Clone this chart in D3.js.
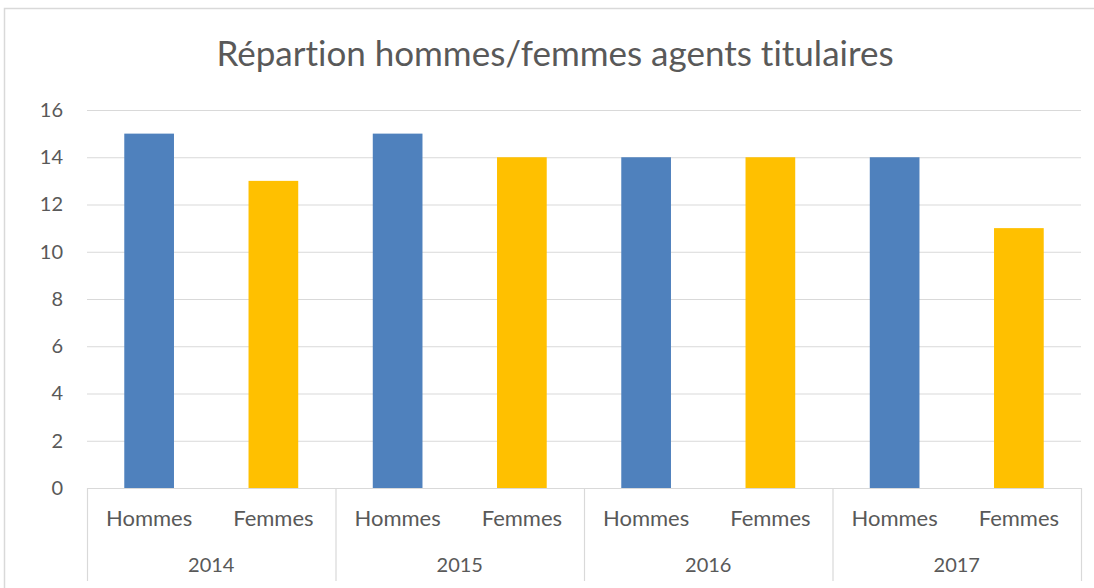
<!DOCTYPE html>
<html>
<head>
<meta charset="utf-8">
<script src="https://cdn.jsdelivr.net/npm/d3@7"></script>
<style>
  body { margin: 0; background: #fff; }
  text { font-family: Lato, "Open Sans", sans-serif; fill: #595959; font-variant-ligatures: none; }
</style>
</head>
<body>
<div id="chart"></div>
<script>
var years = ["2014", "2015", "2016", "2017"];
var sexes = ["Hommes", "Femmes"];
var hommes = [15, 15, 14, 14];
var femmes = [13, 14, 14, 11];
var yTicks = [0, 2, 4, 6, 8, 10, 12, 14, 16];
var colors = {Hommes: "#4f81bd", Femmes: "#ffc000"};

function plotChart() {
  var W = 1094, H = 588;
  var margin = {top: 110, right: 13, bottom: 100, left: 87};
  var width = W - margin.left - margin.right;
  var height = H - margin.top - margin.bottom;

  var svg = d3.select("#chart").append("svg")
      .attr("width", W)
      .attr("height", H);

  // chart border
  svg.append("rect")
      .attr("x", 4.5).attr("y", 8.5)
      .attr("width", W + 10).attr("height", H + 10)
      .attr("fill", "none")
      .attr("stroke", "#d9d9d9")
      .attr("stroke-width", 1.5);

  svg.append("text")
      .attr("x", 555).attr("y", 66)
      .attr("text-anchor", "middle")
      .style("font-size", "35px")
      .text("Répartion hommes/femmes agents titulaires");

  var g = svg.append("g")
      .attr("transform", "translate(" + margin.left + "," + margin.top + ")");

  var y = d3.scaleLinear().domain([0, 16]).range([height, 0]);
  var x0 = d3.scaleBand().domain(years).range([0, width]).padding(0);
  var x1 = d3.scaleBand().domain(sexes).range([0, x0.bandwidth()])
      .paddingInner(0.6).paddingOuter(0.3);

  // gridlines
  g.append("g").selectAll("line")
      .data(yTicks.filter(function(d) { return d > 0; }))
      .enter().append("line")
        .attr("x1", 0).attr("x2", width)
        .attr("y1", function(d) { return y(d) + 0.5; })
        .attr("y2", function(d) { return y(d) + 0.5; })
        .attr("stroke", "#d9d9d9")
        .attr("stroke-width", 1.2);

  // y axis labels
  var yAxis = g.append("g")
      .call(d3.axisLeft(y).tickValues(yTicks).tickSize(0).tickPadding(24));
  yAxis.select(".domain").remove();
  yAxis.selectAll("text")
      .style("font-size", "20px")
      .style("font-family", "Lato, sans-serif")
      .attr("fill", "#595959");

  // bars
  var rows = years.map(function(yr, i) {
    return {year: yr, values: [{sex: "Hommes", v: hommes[i]}, {sex: "Femmes", v: femmes[i]}]};
  });
  var grp = g.selectAll(".grp").data(rows).enter().append("g")
      .attr("transform", function(d) { return "translate(" + x0(d.year) + ",0)"; });
  grp.selectAll("rect").data(function(d) { return d.values; })
    .enter().append("rect")
      .attr("x", function(d) { return x1(d.sex); })
      .attr("y", function(d) { return y(d.v); })
      .attr("width", x1.bandwidth())
      .attr("height", function(d) { return height - y(d.v); })
      .attr("fill", function(d) { return colors[d.sex]; });

  // category labels
  grp.selectAll(".cat").data(sexes).enter().append("text")
      .attr("x", function(d) { return x1(d) + x1.bandwidth() / 2; })
      .attr("y", height + 38)
      .attr("text-anchor", "middle")
      .style("font-size", "22px")
      .text(function(d) { return d; });

  // year labels
  grp.append("text")
      .attr("x", x0.bandwidth() / 2)
      .attr("y", height + 84)
      .attr("text-anchor", "middle")
      .style("font-size", "20px")
      .text(function(d) { return d.year; });

  // axis line and separators
  g.append("line")
      .attr("x1", 0).attr("x2", width)
      .attr("y1", height + 0.5).attr("y2", height + 0.5)
      .attr("stroke", "#d9d9d9").attr("stroke-width", 1.2);
  var seps = years.map(function(d) { return x0(d); }).concat([width]);
  g.selectAll(".sep").data(seps).enter().append("line")
      .attr("x1", function(d) { return d + 0.5; })
      .attr("x2", function(d) { return d + 0.5; })
      .attr("y1", height).attr("y2", height + 93)
      .attr("stroke", "#d9d9d9").attr("stroke-width", 1.2);
}

plotChart();
</script>
</body>
</html>
